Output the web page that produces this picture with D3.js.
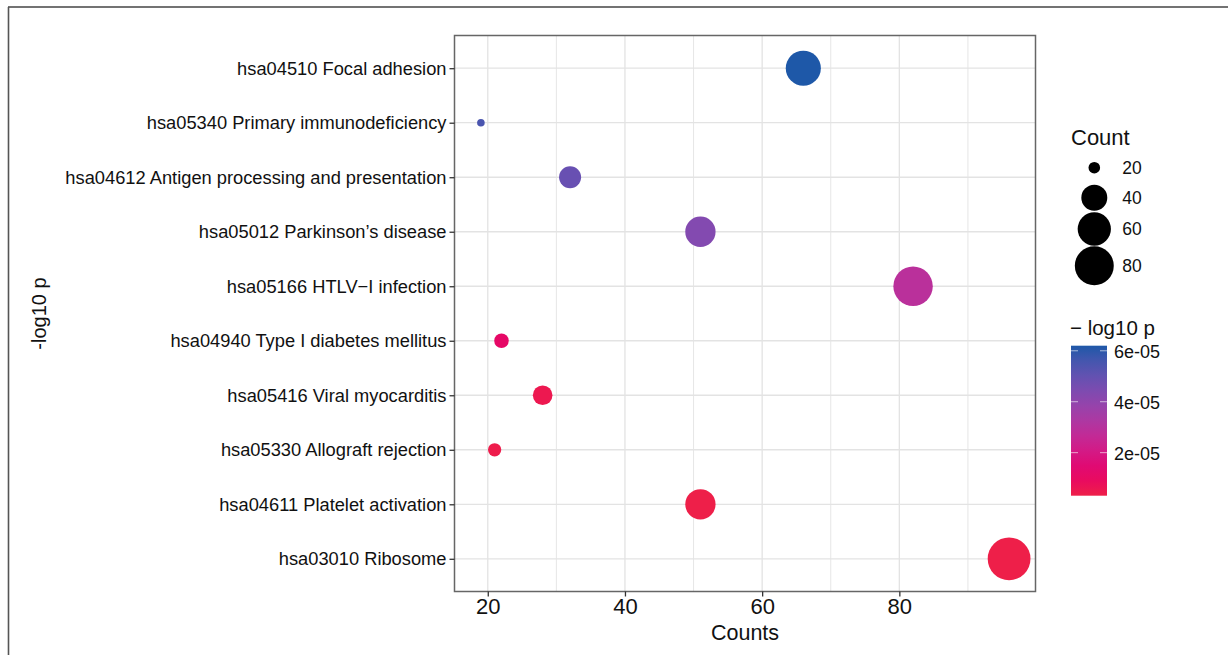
<!DOCTYPE html>
<html>
<head>
<meta charset="utf-8">
<script src="https://cdn.jsdelivr.net/npm/d3@7"></script>
<style>
  body { margin: 0; background: #fff; }
  text { font-family: "Liberation Sans", Arial, sans-serif; fill: #111; }
</style>
</head>
<body>
<svg id="chart" width="1228" height="655"></svg>
<script>
// data (top row first)
const pathways = [
    'hsa04510 Focal adhesion',
    'hsa05340 Primary immunodeficiency',
    'hsa04612 Antigen processing and presentation',
    'hsa05012 Parkinson\u2019s disease',
    'hsa05166 HTLV\u2212I infection',
    'hsa04940 Type I diabetes mellitus',
    'hsa05416 Viral myocarditis',
    'hsa05330 Allograft rejection',
    'hsa04611 Platelet activation',
    'hsa03010 Ribosome'
];
const counts = [66, 19, 32, 51, 82, 22, 28, 21, 51, 96];
const pvals = [6.2e-5, 5.5e-5, 4.9e-5, 4.3e-5, 2.9e-5, 1.1e-5, 5.0e-6, 4.0e-6, 3.1e-6, 3.2e-6];

const xTicks = [20, 40, 60, 80];
const xMinor = [30, 50, 70, 90];
const sizeBreaks = [20, 40, 60, 80];
const colorBreaks = [6e-5, 4e-5, 2e-5];
const colorLabels = ['6e-05', '4e-05', '2e-05'];

const svg = d3.select("#chart");

// outer frame (top + left only)
svg.append("line").attr("x1", 8).attr("x2", 1228).attr("y1", 7).attr("y2", 7)
    .attr("stroke", "#444").attr("stroke-width", 1.6);
svg.append("line").attr("x1", 8.5).attr("x2", 8.5).attr("y1", 7).attr("y2", 655)
    .attr("stroke", "#555").attr("stroke-width", 1.6);

// panel
const panel = {left: 454.5, top: 35.5, right: 1035.5, bottom: 591.5};

const data = pathways.map((p, i) => ({name: p, count: counts[i], p: pvals[i]}));

// ggplot style 5% expansion on continuous x
const [cMin, cMax] = d3.extent(counts);
const pad = (cMax - cMin) * 0.05;
const x = d3.scaleLinear()
    .domain([cMin - pad, cMax + pad])
    .range([panel.left, panel.right]);

// discrete y with 0.6 expansion
const y = d3.scalePoint()
    .domain(pathways)
    .range([panel.top, panel.bottom])
    .padding(0.6);

// size: area scale like scale_size
const sizeNorm = d3.scaleLinear().domain([cMin, cMax]).range([0, 1]);
const rLin = d3.scaleLinear().domain([0, 1]).range([3.8, 21.4]);
const r = v => rLin(Math.sqrt(Math.max(0, sizeNorm(v))));

const [pMin, pMax] = d3.extent(pvals);
const color = d3.scaleLinear()
    .domain([pMin, pMax])
    .range(["#EE1F49", "#1E58A8"])
    .interpolate(d3.interpolateHcl);

// grid
const g = svg.append("g");
g.selectAll(".minor").data(xMinor).enter().append("line")
    .attr("x1", d => x(d)).attr("x2", d => x(d))
    .attr("y1", panel.top).attr("y2", panel.bottom)
    .attr("stroke", "#E6E6E6").attr("stroke-width", 1);
g.selectAll(".majorx").data(xTicks).enter().append("line")
    .attr("x1", d => x(d)).attr("x2", d => x(d))
    .attr("y1", panel.top).attr("y2", panel.bottom)
    .attr("stroke", "#E3E3E3").attr("stroke-width", 1.3);
g.selectAll(".majory").data(pathways).enter().append("line")
    .attr("x1", panel.left).attr("x2", panel.right)
    .attr("y1", d => y(d)).attr("y2", d => y(d))
    .attr("stroke", "#E3E3E3").attr("stroke-width", 1.3);

// points
svg.append("g").selectAll("circle").data(data).enter().append("circle")
    .attr("cx", d => x(d.count))
    .attr("cy", d => y(d.name))
    .attr("r", d => r(d.count))
    .attr("fill", d => color(d.p));

// panel border
svg.append("rect")
    .attr("x", panel.left).attr("y", panel.top)
    .attr("width", panel.right - panel.left).attr("height", panel.bottom - panel.top)
    .attr("fill", "none").attr("stroke", "#666").attr("stroke-width", 1.5);

// axes
const yAxis = svg.append("g")
    .attr("transform", `translate(${panel.left},0)`)
    .call(d3.axisLeft(y).tickSize(5).tickPadding(3));
yAxis.select(".domain").remove();
yAxis.selectAll("line").attr("stroke", "#333").attr("stroke-width", 1.3);
yAxis.selectAll("text").attr("font-size", "18.3px").attr("fill", "#111")
    .attr("font-family", "Liberation Sans, Arial, sans-serif");

const xAxis = svg.append("g")
    .attr("transform", `translate(0,${panel.bottom})`)
    .call(d3.axisBottom(x).tickValues(xTicks).tickSize(5).tickPadding(2));
xAxis.select(".domain").remove();
xAxis.selectAll("line").attr("stroke", "#333").attr("stroke-width", 1.3);
xAxis.selectAll("text").attr("font-size", "22px").attr("fill", "#333")
    .attr("font-family", "Liberation Sans, Arial, sans-serif");

svg.append("text")
    .attr("x", (panel.left + panel.right) / 2).attr("y", 640)
    .attr("text-anchor", "middle").attr("font-size", "21.5px")
    .text("Counts");

svg.append("text")
    .attr("transform", `translate(46,${(panel.top + panel.bottom) / 2}) rotate(-90)`)
    .attr("text-anchor", "middle").attr("font-size", "20px")
    .text("-log10 p");

// size legend
svg.append("text").attr("x", 1071).attr("y", 145)
    .attr("font-size", "22px").text("Count");
const sizeY = [167.7, 197.7, 229, 265.7];
const sl = svg.append("g").selectAll("g").data(sizeBreaks).enter().append("g")
    .attr("transform", (d, i) => `translate(1094.3,${sizeY[i]})`);
sl.append("circle").attr("r", d => r(d)).attr("fill", "#000");
sl.append("text").attr("x", 28).attr("dy", "0.35em")
    .attr("font-size", "17.5px").text(d => d);

// colour bar
const bar = {x: 1071, y: 345.7, w: 36, h: 150};
svg.append("text").attr("x", 1070).attr("y", 335)
    .attr("font-size", "20.5px").text("\u2212 log10 p");

const defs = svg.append("defs");
const grad = defs.append("linearGradient").attr("id", "pgrad")
    .attr("x1", 0).attr("y1", 1).attr("x2", 0).attr("y2", 0);
d3.range(0, 1.0001, 0.1).forEach(t => {
    grad.append("stop").attr("offset", t)
        .attr("stop-color", color(pMin + t * (pMax - pMin)));
});
svg.append("rect").attr("x", bar.x).attr("y", bar.y)
    .attr("width", bar.w).attr("height", bar.h).attr("fill", "url(#pgrad)");

const cy = d3.scaleLinear().domain([pMin, pMax]).range([bar.y + bar.h, bar.y]);
const ct = svg.append("g").selectAll("g").data(colorBreaks).enter().append("g")
    .attr("transform", d => `translate(0,${cy(d)})`);
ct.append("line").attr("x1", bar.x).attr("x2", bar.x + 7)
    .attr("stroke", "#fff").attr("stroke-opacity", 0.6).attr("stroke-width", 1);
ct.append("line").attr("x1", bar.x + bar.w - 7).attr("x2", bar.x + bar.w)
    .attr("stroke", "#fff").attr("stroke-opacity", 0.6).attr("stroke-width", 1);
ct.append("text").attr("x", 1114).attr("y", 1).attr("dy", "0.35em")
    .attr("font-size", "18px").text((d, i) => colorLabels[i]);
</script>
</body>
</html>
